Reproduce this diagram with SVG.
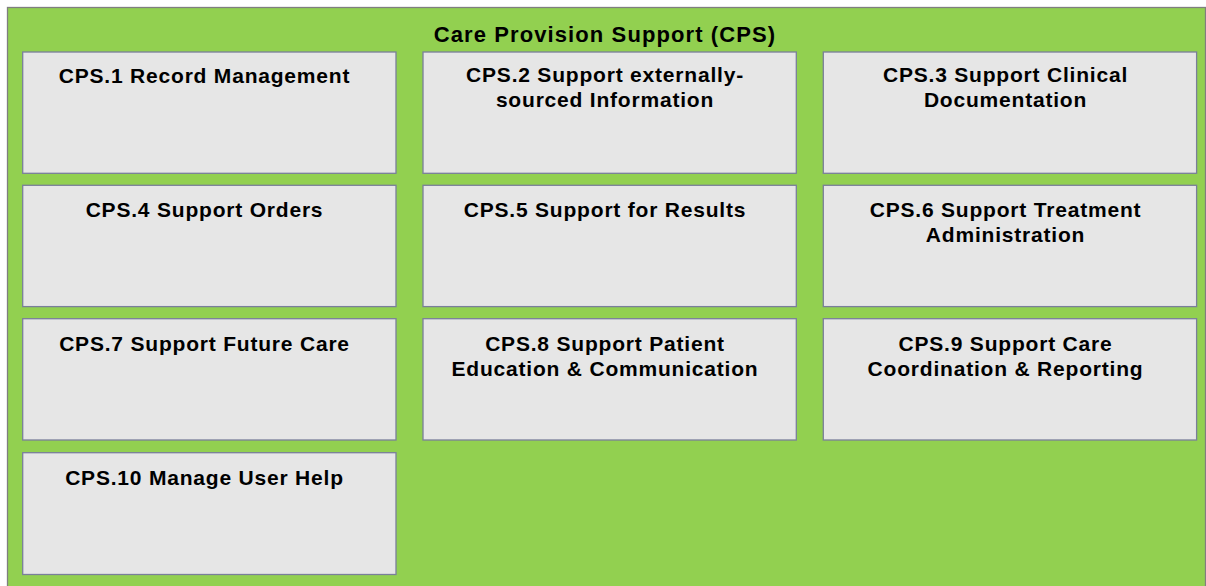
<svg xmlns="http://www.w3.org/2000/svg" width="1206" height="586" viewBox="0 0 1206 586">
<style>
.frame{fill:#92d050;stroke:#7f7f7f;stroke-width:1.3}
.box{fill:#e6e6e6;stroke:#7a7f9a;stroke-width:1.3}
text{font-family:"Liberation Sans",Arial,sans-serif;font-weight:bold;fill:#000;text-anchor:middle}
.t{font-size:21px;letter-spacing:0.8px}
.title{font-size:22px;letter-spacing:1.1px}
</style>
<rect width="1206" height="586" fill="#ffffff"/>
<g id="cps">
<rect class="frame" x="7.5" y="7.5" width="1198" height="590"/>
<text class="title" x="605" y="41.5">Care Provision Support (CPS)</text>
</g>
<g id="cps1"><rect class="box" x="22.7" y="52" width="373.3" height="121.3"/><text class="t" x="204.5" y="82.5">CPS.1 Record Management</text></g>
<g id="cps2"><rect class="box" x="423" y="52" width="373.3" height="121.3"/><text class="t" x="605" y="82"><tspan x="605">CPS.2 Support externally-</tspan><tspan x="605" dy="25">sourced Information</tspan></text></g>
<g id="cps3"><rect class="box" x="823.3" y="52" width="373.3" height="121.3"/><text class="t" x="1005.5" y="82"><tspan x="1005.5">CPS.3 Support Clinical</tspan><tspan x="1005.5" dy="25">Documentation</tspan></text></g>
<g id="cps4"><rect class="box" x="22.7" y="185.3" width="373.3" height="121.3"/><text class="t" x="204.5" y="216.5">CPS.4 Support Orders</text></g>
<g id="cps5"><rect class="box" x="423" y="185.3" width="373.3" height="121.3"/><text class="t" x="605" y="216.5">CPS.5 Support for Results</text></g>
<g id="cps6"><rect class="box" x="823.3" y="185.3" width="373.3" height="121.3"/><text class="t" x="1005.5" y="216.5"><tspan x="1005.5">CPS.6 Support Treatment</tspan><tspan x="1005.5" dy="25">Administration</tspan></text></g>
<g id="cps7"><rect class="box" x="22.7" y="318.7" width="373.3" height="121.3"/><text class="t" x="204.5" y="350.5">CPS.7 Support Future Care</text></g>
<g id="cps8"><rect class="box" x="423" y="318.7" width="373.3" height="121.3"/><text class="t" x="605" y="350.5"><tspan x="605">CPS.8 Support Patient</tspan><tspan x="605" dy="25">Education &amp; Communication</tspan></text></g>
<g id="cps9"><rect class="box" x="823.3" y="318.7" width="373.3" height="121.3"/><text class="t" x="1005.5" y="350.5"><tspan x="1005.5">CPS.9 Support Care</tspan><tspan x="1005.5" dy="25">Coordination &amp; Reporting</tspan></text></g>
<g id="cps10"><rect class="box" x="22.7" y="452.7" width="373.3" height="121.8"/><text class="t" x="204.5" y="484.5">CPS.10 Manage User Help</text></g>
<g id="connectors"></g>
</svg>
